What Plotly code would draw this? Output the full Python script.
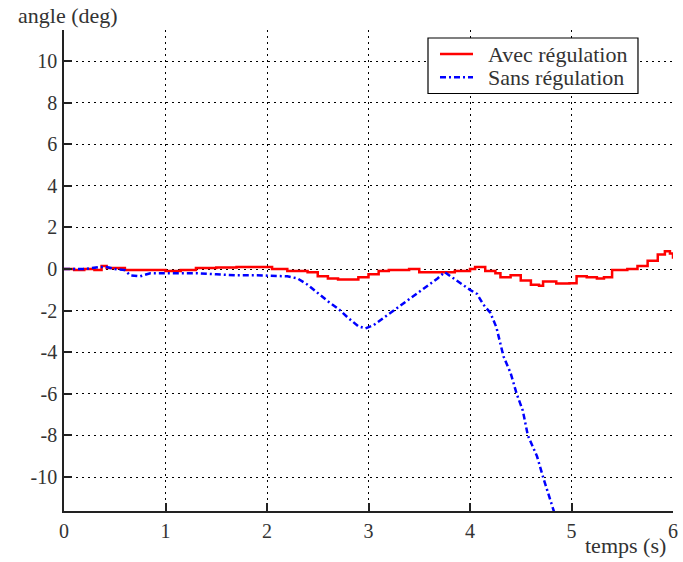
import plotly.graph_objects as go

t_avec = [0.00, 0.10, 0.20, 0.30, 0.37, 0.42, 0.50, 0.60, 0.80, 1.00, 1.15, 1.30, 1.50, 1.70, 1.95,
          2.05, 2.20, 2.40, 2.50, 2.60, 2.70, 2.80, 2.90, 3.00, 3.10, 3.20, 3.40, 3.50, 3.70, 3.85,
          4.00, 4.05, 4.15, 4.25, 4.30, 4.40, 4.50, 4.60, 4.68, 4.72, 4.85, 4.98, 5.05, 5.15, 5.25,
          5.32, 5.40, 5.55, 5.65, 5.75, 5.85, 5.92, 5.97, 6.00]
y_avec = [0.00, -0.05, 0.00, -0.05, 0.15, 0.05, 0.05, -0.05, -0.05, -0.10, -0.05, 0.05, 0.08, 0.10, 0.10,
          0.00, -0.10, -0.15, -0.35, -0.45, -0.50, -0.50, -0.40, -0.25, -0.10, -0.05, 0.00, -0.15, -0.15, -0.10,
          0.00, 0.10, -0.10, -0.20, -0.40, -0.30, -0.55, -0.75, -0.80, -0.60, -0.70, -0.68, -0.35, -0.40, -0.45,
          -0.40, -0.05, 0.00, 0.15, 0.40, 0.70, 0.85, 0.75, 0.50]

t_sans = [0.00, 0.20, 0.35, 0.42, 0.50, 0.60, 0.65, 0.75, 0.85, 1.00, 1.10, 1.30, 1.50, 1.70, 1.90,
          2.10, 2.20, 2.30, 2.40, 2.50, 2.60, 2.70, 2.80, 2.90, 2.97, 3.05, 3.15, 3.25, 3.38, 3.50,
          3.60, 3.68, 3.75, 3.82, 3.90, 4.00, 4.07, 4.13, 4.20, 4.26, 4.33, 4.40, 4.46, 4.52, 4.57,
          4.66, 4.72, 4.78, 4.83, 4.86]
y_sans = [0.00, 0.00, 0.10, 0.10, 0.00, -0.05, -0.30, -0.35, -0.20, -0.20, -0.20, -0.20, -0.25, -0.30, -0.30,
          -0.35, -0.35, -0.45, -0.75, -1.15, -1.55, -1.90, -2.35, -2.75, -2.85, -2.70, -2.35, -2.00, -1.50, -1.10,
          -0.75, -0.45, -0.15, -0.40, -0.65, -1.00, -1.20, -1.70, -2.10, -2.80, -4.20, -5.00, -6.00, -6.80, -8.00,
          -9.00, -10.00, -10.90, -11.70, -12.30]

series_names = ["Avec régulation", "Sans régulation"]
series_colors = ["#ff0000", "#0000ff"]
series_dash = ["solid", "6px,3px,2px,3px"]

x_ticks = [0, 1, 2, 3, 4, 5, 6]
y_ticks = [-10, -8, -6, -4, -2, 0, 2, 4, 6, 8, 10]
y_ticktext = [str(v) for v in y_ticks]

FONT = "Liberation Serif"
TXT = "#333333"

fig = go.Figure()
fig.add_trace(go.Scatter(x=t_avec, y=y_avec, mode="lines", name=series_names[0],
                         line=dict(color=series_colors[0], width=2.5, shape="hv")))
fig.add_trace(go.Scatter(x=t_sans, y=y_sans, mode="lines", name=series_names[1],
                         line=dict(color=series_colors[1], width=2.5, dash=series_dash[1])))

axis_common = dict(
    showgrid=True, gridcolor="black", griddash="2px,4px", gridwidth=1,
    zeroline=False, showline=True, linecolor="#222222", linewidth=1.5,
    ticks="inside", ticklen=8, tickcolor="#222222", tickwidth=1.5,
    tickfont=dict(family=FONT, size=20, color=TXT), automargin=False,
)

# Legend drawn as a boxed key in paper coordinates
leg_x0, leg_x1, leg_y0, leg_y1 = 0.5977, 0.9425, 0.868, 0.9834
sample_x0, sample_x1, text_x = 0.6174, 0.6716, 0.6929
row_y = [0.950, 0.902]

shapes = [dict(type="rect", xref="paper", yref="paper", x0=leg_x0, x1=leg_x1, y0=leg_y0, y1=leg_y1,
               line=dict(color="black", width=1.2), fillcolor="white", layer="above")]
annotations = []
for name, col, dash, ry in zip(series_names, series_colors, series_dash, row_y):
    shapes.append(dict(type="line", xref="paper", yref="paper", x0=sample_x0, x1=sample_x1, y0=ry, y1=ry,
                       line=dict(color=col, width=2.5, dash=dash), layer="above"))
    annotations.append(dict(text=name, xref="paper", yref="paper", x=text_x, y=ry,
                            xanchor="left", yanchor="middle", showarrow=False,
                            font=dict(family=FONT, size=22, color=TXT)))

annotations += [
    dict(text="angle (deg)", xref="paper", yref="paper", x=-0.078, y=1.03,
         xanchor="left", yanchor="middle", showarrow=False,
         font=dict(family=FONT, size=22, color=TXT)),
    dict(text="temps (s)", xref="paper", yref="paper", x=0.992, y=-0.072,
         xanchor="right", yanchor="middle", showarrow=False,
         font=dict(family=FONT, size=22, color=TXT)),
]

fig.update_layout(
    width=683, height=562,
    margin=dict(l=64, r=10, t=30, b=51, autoexpand=False),
    paper_bgcolor="white", plot_bgcolor="white",
    font=dict(family=FONT, color=TXT),
    xaxis=dict(range=[0, 6], tickvals=x_ticks, ticklabelstandoff=1, **axis_common),
    yaxis=dict(range=[-11.63, 11.49], tickvals=y_ticks, ticktext=y_ticktext,
               ticklabelstandoff=1, **axis_common),
    showlegend=False,
    shapes=shapes,
    annotations=annotations,
)

fig.write_html("out.html", config={"displayModeBar": False},
               post_script="document.body.style.margin='0';")
